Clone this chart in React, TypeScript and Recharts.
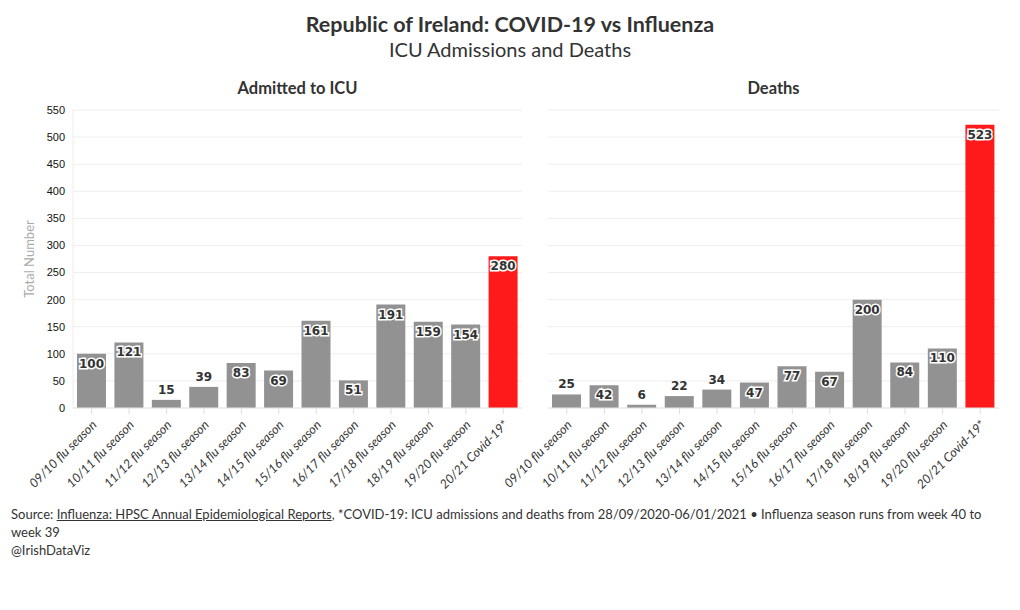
import React from 'react';
import { BarChart, Bar, XAxis, YAxis, CartesianGrid, Cell, LabelList } from 'recharts';

const seasons = [
  '09/10 flu season', '10/11 flu season', '11/12 flu season', '12/13 flu season',
  '13/14 flu season', '14/15 flu season', '15/16 flu season', '16/17 flu season',
  '17/18 flu season', '18/19 flu season', '19/20 flu season', '20/21 Covid-19*'
];
const icuValues = [100, 121, 15, 39, 83, 69, 161, 51, 191, 159, 154, 280];
const deathValues = [25, 42, 6, 22, 34, 47, 77, 67, 200, 84, 110, 523];
const yTicks = [0, 50, 100, 150, 200, 250, 300, 350, 400, 450, 500, 550];

const GREY = '#929292';
const RED = '#fe1a1a';
const FONT = 'Lato, "Open Sans", sans-serif';

const icuData = seasons.map((s, i) => ({ season: s, value: icuValues[i] }));
const deathData = seasons.map((s, i) => ({ season: s, value: deathValues[i] }));

const SeasonTick = (props: any) => {
  const { x, y, payload } = props;
  return (
    <g transform={`translate(${x},${y + 4})`}>
      <text
        transform="rotate(-45)"
        textAnchor="end"
        dy={8}
        fontSize={12.5}
        fontStyle="italic"
        fill="#333"
        fontFamily={FONT}
      >
        {payload.value}
      </text>
    </g>
  );
};

const ValueLabel = (props: any) => {
  const { x, y, width, value } = props;
  const above = value < 40;
  return (
    <text
      x={x + width / 2}
      y={above ? y - 10 : y + 10}
      textAnchor="middle"
      dominantBaseline="central"
      fontSize={12}
      fontWeight="bold"
      fill="#333"
      stroke={above ? 'none' : '#fff'}
      strokeWidth={3}
      paintOrder="stroke"
      fontFamily='"DejaVu Sans", sans-serif'
    >
      {value}
    </text>
  );
};

const Panel = ({ data, showY, left, width, margin }: any) => (
  <div style={{ position: 'absolute', left, top: 100 }}>
    <BarChart width={width} height={408} data={data} margin={margin} barSize={29}>
      <CartesianGrid vertical={false} stroke="#eeeeee" />
      <XAxis
        dataKey="season"
        interval={0}
        height={100}
        tick={<SeasonTick />}
        tickLine={{ stroke: '#ddd' }}
        axisLine={{ stroke: '#e4e4e4' }}
      />
      <YAxis
        domain={[0, 550]}
        ticks={yTicks}
        hide={!showY}
        width={73}
        tick={{ fontSize: 11, fill: '#111', fontFamily: '"Liberation Sans", Arial, sans-serif' }}
        tickLine={false}
        axisLine={{ stroke: '#eeeeee' }}
        label={{
          value: 'Total Number',
          angle: -90,
          position: 'insideLeft',
          offset: 29,
          style: { fill: '#aaa', fontSize: 13, fontFamily: FONT, textAnchor: 'middle' }
        }}
      />
      <Bar dataKey="value" isAnimationActive={false}>
        {data.map((d: any, i: number) => (
          <Cell key={i} fill={i === data.length - 1 ? RED : GREY} />
        ))}
        <LabelList dataKey="value" content={<ValueLabel />} />
      </Bar>
    </BarChart>
  </div>
);

export default function App() {
  return (
    <div style={{ position: 'absolute', left: 0, top: 0, width: 1020, height: 610, background: '#fff', fontFamily: FONT, color: '#333' }}>
      <div style={{ position: 'absolute', top: 11, width: 1020, textAlign: 'center', fontSize: 21.5, fontWeight: 'bold', color: '#333' }}>
        Republic of Ireland: COVID-19 vs Influenza
      </div>
      <div style={{ position: 'absolute', top: 37, width: 1020, textAlign: 'center', fontSize: 20, color: '#333' }}>
        ICU Admissions and Deaths
      </div>
      <div style={{ position: 'absolute', top: 78, left: 73, width: 449, textAlign: 'center', fontSize: 16.5, fontWeight: 'bold', color: '#333' }}>
        Admitted to ICU
      </div>
      <div style={{ position: 'absolute', top: 78, left: 548, width: 451, textAlign: 'center', fontSize: 16.5, fontWeight: 'bold', color: '#333' }}>
        Deaths
      </div>
      <Panel data={icuData} showY left={0} width={530} margin={{ top: 10, right: 8, left: 0, bottom: 0 }} />
      <Panel data={deathData} showY={false} left={440} width={570} margin={{ top: 10, right: 11, left: 108, bottom: 0 }} />
      <div style={{ position: 'absolute', top: 505, left: 11, width: 985, fontSize: 13, lineHeight: '18px', color: '#333' }}>
        Source: <u>Influenza: HPSC Annual Epidemiological Reports</u>, *COVID-19: ICU admissions and deaths from 28/09/2020-06/01/2021 • Influenza season runs from week 40 to week 39
        <br />
        @IrishDataViz
      </div>
    </div>
  );
}
